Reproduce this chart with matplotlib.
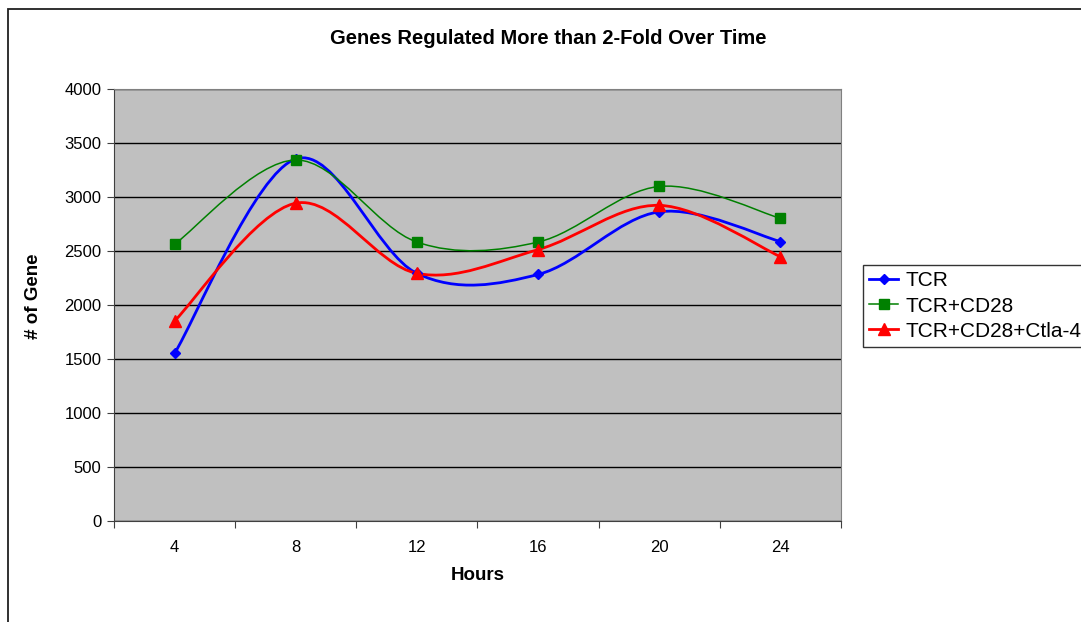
import matplotlib.pyplot as plt
import numpy as np
from matplotlib.path import Path
from matplotlib.patches import PathPatch, Rectangle
from matplotlib.lines import Line2D

plt.rcParams['font.family'] = ['Liberation Sans', 'DejaVu Sans']

# === data ===
hours = ['4', '8', '12', '16', '20', '24']
tcr = [1550, 3350, 2290, 2280, 2860, 2585]
tcr_cd28 = [2560, 3340, 2580, 2580, 3095, 2800]
tcr_cd28_ctla4 = [1850, 2940, 2290, 2510, 2920, 2445]

series = [tcr, tcr_cd28, tcr_cd28_ctla4]
names = ['TCR', 'TCR+CD28', 'TCR+CD28+Ctla-4']
colors = ['#0000FF', '#008000', '#FF0000']
markers = ['D', 's', '^']
msizes = [5, 6.5, 8]
lws = [2.0, 1.1, 2.0]


# excel-style smoothed line (catmull-rom as cubic bezier)
def smooth_path(xs, ys):
    pts = np.column_stack([xs, ys]).astype(float)
    n = len(pts)
    verts = [pts[0]]
    codes = [Path.MOVETO]
    for i in range(n - 1):
        p0 = pts[max(i - 1, 0)]
        p1 = pts[i]
        p2 = pts[i + 1]
        p3 = pts[min(i + 2, n - 1)]
        verts += [p1 + (p2 - p0) / 6, p2 - (p3 - p1) / 6, p2]
        codes += [Path.CURVE4] * 3
    return Path(verts, codes)


W, H = 1081, 622
fig = plt.figure(figsize=(W / 100, H / 100), dpi=100)

# outer chart border (runs off right / bottom)
fig.patches.append(Rectangle((8 / W, -0.1), 1.2, 1 - 9 / H + 0.1, transform=fig.transFigure,
                             fill=False, edgecolor='#202020', linewidth=1.3))

ax = fig.add_axes([114 / W, 1 - 520.7 / H, (841 - 114) / W, (520.7 - 88.7) / H])
ax.set_facecolor('#C0C0C0')

x = np.arange(len(hours))
for vals, c, m, ms, lw in zip(series, colors, markers, msizes, lws):
    ax.add_patch(PathPatch(smooth_path(x, vals), fill=False, edgecolor=c, linewidth=lw, zorder=3))
    ax.plot(x, vals, linestyle='none', marker=m, markersize=ms, color=c, zorder=4)

ax.set_xlim(-0.5, len(hours) - 0.5)
ax.set_ylim(0, 4000)
ax.set_yticks(np.arange(0, 4001, 500))
ax.set_xticks(np.arange(-0.5, len(hours), 1))
ax.set_xticklabels([])
ax.set_xticks(x, minor=True)
ax.set_xticklabels(hours, minor=True)
ax.tick_params(axis='x', which='major', length=5, direction='out', color='#404040')
ax.tick_params(axis='x', which='minor', length=0, pad=14, labelsize=12)
ax.tick_params(axis='y', length=5, direction='out', pad=4, labelsize=12, color='#404040')

ax.yaxis.grid(True, color='black', linewidth=1)
ax.set_axisbelow(True)
for s in ['top', 'right']:
    ax.spines[s].set_color('#808080')
for s in ['left', 'bottom']:
    ax.spines[s].set_color('#404040')

ax.set_xlabel('Hours', fontsize=13.5, fontweight='bold')
ax.xaxis.set_label_coords(0.5, -(567 - 520.7) / (520.7 - 88.7), transform=ax.transAxes)
ax.set_ylabel('# of Gene', fontsize=13.5, fontweight='bold')
ax.yaxis.set_label_coords(-(114 - 42) / (841 - 114), (520.7 - 296) / (520.7 - 88.7))

fig.text(548 / W, 1 - 39 / H, 'Genes Regulated More than 2-Fold Over Time',
         ha='center', va='center', fontsize=14.5, fontweight='bold')

handles = [Line2D([], [], color=c, marker=m, markersize=ms, linewidth=lw)
           for c, m, ms, lw in zip(colors, markers, msizes, lws)]
leg = fig.legend(handles, names, loc='upper left', bbox_to_anchor=(863 / W, 1 - 265 / H),
                 bbox_transform=fig.transFigure, borderaxespad=0, fontsize=15,
                 frameon=True, fancybox=False, handlelength=1.4, handletextpad=0.35,
                 labelspacing=0.3, borderpad=0.3)
leg.get_frame().set_edgecolor('black')
leg.get_frame().set_linewidth(1)

plt.savefig('out.png', dpi=100)
